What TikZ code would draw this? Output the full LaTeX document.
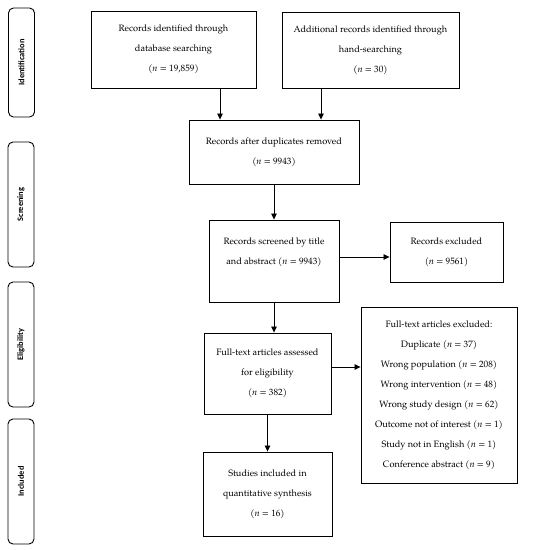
\documentclass[tikz,border=0pt]{standalone}
\usepackage{fontspec}
\setmainfont{TeX Gyre Pagella}
\newfontfamily\sidefont{Carlito}
\usetikzlibrary{arrows.meta,calc}
\begin{document}
\begin{tikzpicture}[x=1pt,y=-1pt,
  box/.style={draw, line width=0.9pt, align=center, inner sep=0pt, font=\fontsize{9.2}{20}\selectfont},
  side/.style={draw, line width=0.9pt, rounded corners=5pt, inner sep=0pt, rotate=90, minimum height=26pt, font=\sidefont\bfseries\fontsize{8.4}{9}\selectfont},
  arr/.style={-{Triangle[length=6pt,width=5.5pt]}, line width=0.8pt}]
\useasboundingbox (0,0) rectangle (536,550);
% side labels
\node[side, minimum width=109pt] (s1) at (21.5,62.5) {Identification};
\node[side, minimum width=125pt] (s2) at (21,204.5) {Screening};
\node[side, minimum width=125pt] (s3) at (21,344.5) {Eligibility};
\node[side, minimum width=125pt] (s4) at (21,481.5) {Included};
% boxes
\node[box, minimum width=165pt, minimum height=77pt] (b1) at (173.5,49.5) {Records identified through\\database searching\\(\textit{n} = 19,859)};
\node[box, minimum width=177pt, minimum height=76pt] (b2) at (370.5,50) {Additional records identified through\\hand-searching\\(\textit{n} = 30)};
\node[box, minimum width=170pt, minimum height=64pt] (b3) at (274,152) {Records after duplicates removed\\(\textit{n} = 9943)};
\node[box, minimum width=130pt, minimum height=82pt] (b4) at (274,261) {Records screened by title\\and abstract (\textit{n} = 9943)\\\mbox{}};
\node[box, minimum width=113pt, minimum height=60pt] (b5) at (446.5,252) {Records excluded\\(\textit{n} = 9561)};
\node[box, minimum width=127pt, minimum height=81pt] (b6) at (267.5,373.5) {Full-text articles assessed\\for eligibility\\(\textit{n} = 382)};
\node[box, minimum width=156pt, minimum height=176pt] (b7) at (439,395) {Full-text articles excluded:\\Duplicate (\textit{n} = 37)\\Wrong population (\textit{n} = 208)\\Wrong intervention (\textit{n} = 48)\\Wrong study design (\textit{n} = 62)\\Outcome not of interest (\textit{n} = 1)\\Study not in English (\textit{n} = 1)\\Conference abstract (\textit{n} = 9)};
\node[box, minimum width=129pt, minimum height=84pt] (b8) at (267.5,494) {Studies included in\\quantitative synthesis\\(\textit{n} = 16)};
% connector coordinates
\coordinate (xa) at (220,0);
\coordinate (xb) at (321,0);
\coordinate (ya) at (0,257);
\coordinate (yb) at (0,367);
% connectors
\draw[arr] (b1.south -| xa) -- (b3.north -| xa);
\draw[arr] (b2.south -| xb) -- (b3.north -| xb);
\draw[arr] (b3.south) -- (b4.north);
\draw[arr] (b4.east |- ya) -- (b5.west |- ya);
\draw[arr] (b4.south) -- (b4.south |- b6.north);
\draw[arr] (b6.east |- yb) -- (b7.west |- yb);
\draw[arr] (b6.south) -- (b8.north);
\end{tikzpicture}
\end{document}
